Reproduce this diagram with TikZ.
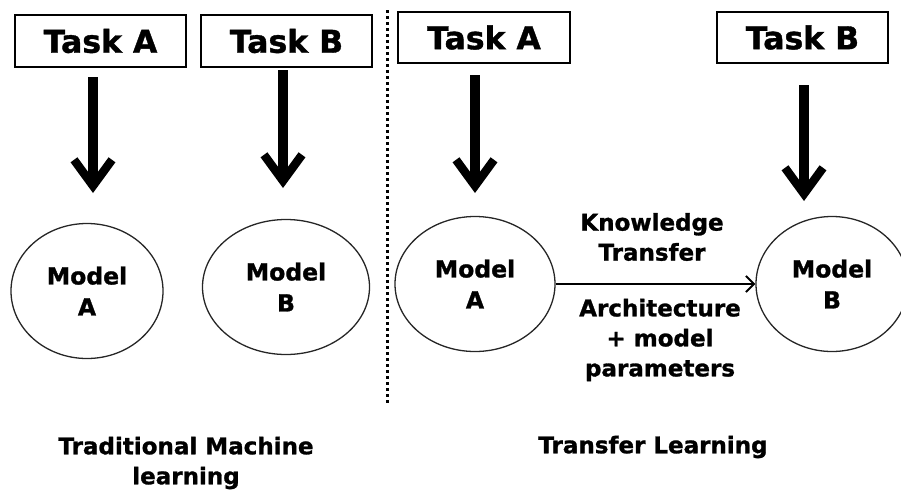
\documentclass[tikz,border=0pt]{standalone}
\usepackage{fontspec}
\setmainfont{DejaVu Sans}[BoldFeatures={FakeBold=1.2}]
\usetikzlibrary{shapes.geometric,arrows.meta}
\begin{document}
\begin{tikzpicture}[x=1pt,y=-1pt,
  task/.style={draw, line width=1.6pt, minimum width=171pt, minimum height=52pt, inner sep=0pt, font=\fontsize{31.5}{34}\selectfont\bfseries},
  model/.style={draw=black!85, ellipse, line width=1.3pt, inner sep=0pt, minimum height=135pt, font=\fontsize{23.5}{31}\selectfont\bfseries, align=center},
  lbl/.style={font=\fontsize{23}{30}\selectfont\bfseries, align=center, inner sep=0pt},
  bigarrow/.style={line width=10pt, -{Straight Barb[length=26pt, width=38pt, line width=8.5pt]}},
]
\useasboundingbox (0,0) rectangle (901,491);
% task boxes
\node[task] (tA1) at (100.5,41) {Task A};
\node[task] (tB1) at (286.5,41) {Task B};
\node[task, minimum width=172pt, minimum height=51pt] (tA2) at (484,37.5) {Task A};
\node[task, minimum height=51pt] (tB2) at (802.5,37.5) {Task B};
% models
\node[model, minimum width=152pt] (mA1) at (87,291) {Model\\A};
\node[model, minimum width=167pt] (mB1) at (286,287) {Model\\B};
\node[model, minimum width=160pt] (mA2) at (475,284) {Model\\A};
\node[model, minimum width=152pt] (mB2) at (832,284) {Model\\B};
% big arrows
\coordinate (a1s) at (93,77);  \coordinate (a1e) at (93,193);
\coordinate (b1s) at (283,70); \coordinate (b1e) at (283,188);
\coordinate (a2s) at (475,75); \coordinate (a2e) at (475,193);
\coordinate (b2s) at (804,85); \coordinate (b2e) at (804,201);
\draw[bigarrow] (a1s) -- (a1e);
\draw[bigarrow] (b1s) -- (b1e);
\draw[bigarrow] (a2s) -- (a2e);
\draw[bigarrow] (b2s) -- (b2e);
% divider
\coordinate (dtop) at (387,10); \coordinate (dbot) at (387,403);
\draw[line width=3pt, dash pattern=on 3pt off 3pt] (dtop) -- (dbot);
% transfer arrow
\draw[line width=2pt, -{Straight Barb[length=8pt, width=16pt]}] (mA2.east) -- (mB2.west);
% labels
\node[lbl] (kt) at (652,237) {Knowledge\\Transfer};
\node[lbl] (amp) at (660,340) {Architecture\\+ model\\parameters};
\node[lbl] (tl) at (653,447) {Transfer Learning};
\node[lbl] (tml) at (186,463) {Traditional Machine\\learning};
\end{tikzpicture}
\end{document}
